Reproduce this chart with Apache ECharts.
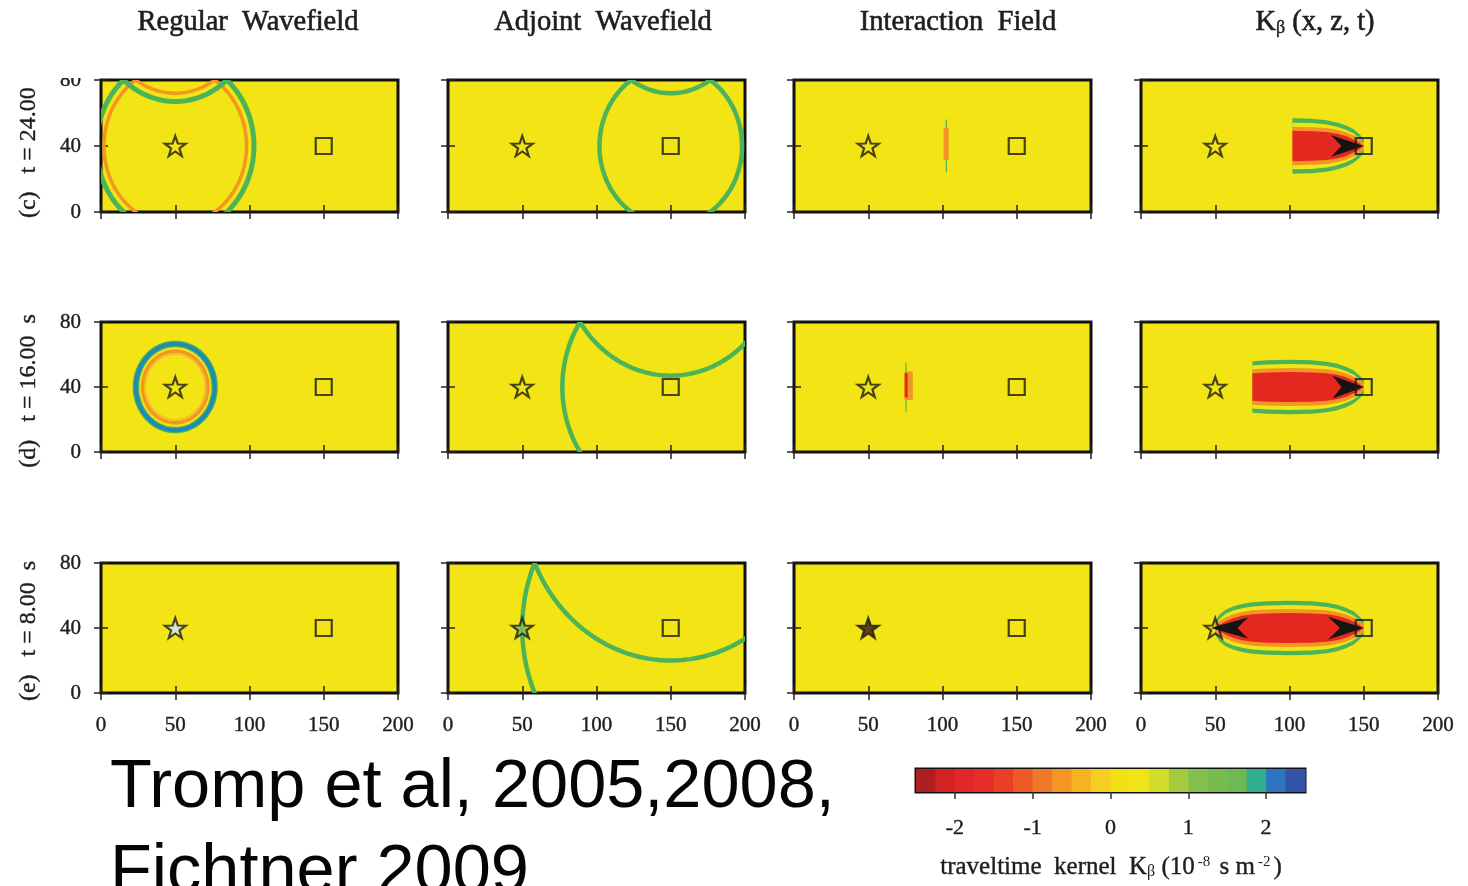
<!DOCTYPE html>
<html>
<head>
<meta charset="utf-8">
<script src="https://cdn.jsdelivr.net/npm/echarts@6/dist/echarts.min.js"></script>
<style>
  html, body { margin: 0; padding: 0; background: #ffffff; }
  #chart { width: 1468px; height: 886px; }
</style>
</head>
<body>
<div id="chart"></div>
<script>
// ---- axes and labels ----
const xTicks = [0, 50, 100, 150, 200];
const zTicks = [0, 40, 80];
const columnTitles = ['Regular  Wavefield', 'Adjoint  Wavefield', 'Interaction  Field', '{t|K}{s|β}{t| (x, z, t)}'];
const rowLabels = ['(c)   t = 24.00  s', '(d)   t = 16.00  s', '(e)   t = 8.00  s'];
const sourcePos = [50, 40];
const receiverPos = [150, 40];

// ---- regular wavefield fronts: [row, centreX, centreZ, radius, colour, line width px] ----
// centreZ = 120 is the image source mirrored at the free surface (z = 80)
const regularFronts = [
  [0, 50, 40, 53, 'green', 5],
  [0, 50, 40, 48, 'orange', 3.5],
  [0, 50, 120, 53, 'green', 5],
  [0, 50, 120, 48, 'orange', 3.5],
  [1, 50, 40, 26.5, 'green', 6.5],
  [1, 50, 40, 26.5, 'blue', 4],
  [1, 50, 40, 22, 'orange', 3.5],
  [1, 50, 40, 20.3, 'paleOrange', 2]
];

// ---- adjoint wavefield fronts (centred on the receiver) ----
const adjointFronts = [
  [0, 150, 40, 48, 'green', 4.5],
  [0, 150, 120, 48, 'green', 4.5],
  [1, 150, 40, 73, 'green', 4.5],
  [1, 150, 120, 73, 'green', 4.5],
  [2, 150, 40, 100, 'green', 4.5],
  [2, 150, 120, 100, 'green', 4.5]
];

// ---- interaction field strips: [row, x0, x1, z0, z1, colour] ----
const interactionStrips = [
  [0, 102.2, 103, 24, 56, 'green'],
  [0, 100.8, 104.2, 31.5, 51, 'orange'],
  [1, 75, 75.8, 25, 55, 'green'],
  [1, 74.5, 80, 32, 49.5, 'orange'],
  [1, 74.5, 76.5, 33.5, 48.5, 'red']
];

// ---- sensitivity kernel lens: half widths (about z = 40) along x ----
const lensX     = [50, 53, 57, 62, 68, 75, 85, 100, 115, 125, 132, 138, 143, 147, 150];
const lensGreen = [3, 7, 10, 12, 13.5, 14.5, 15.2, 15.5, 15.2, 14.3, 13, 11.2, 9, 6, 3];
const lensRed   = [0, 2, 4, 6, 7.5, 8.5, 9, 9.3, 9, 8.5, 7.5, 6, 4, 2, 0];
const kernelStartX = [102, 75, 47];
// black arrowheads: [row, tipX, backX, notchX, half width]
const kernelArrows = [
  [0, 150, 128, 135, 6.5],
  [1, 150, 129, 135, 7],
  [2, 150, 126, 134, 7],
  [2, 47, 72, 65, 6.5]
];

// star fill per [row][column]
const starFill = [
  ['yellow', 'yellow', 'yellow', 'yellow'],
  ['yellow', 'yellow', 'yellow', 'yellow'],
  ['#d2e6ee', '#8cc04c', '#3a1c10', 'none']
];

// ---- colour bar ----
const cbarTicks = [-2, -1, 0, 1, 2];
const cbarEdges = [-2.5, -2.25, -2, -1.75, -1.5, -1.25, -1, -0.75, -0.5, -0.25, 0,
                   0.25, 0.5, 0.75, 1, 1.25, 1.5, 1.75, 2, 2.25, 2.5];
const cbarColors = ['#b01e22', '#d42224', '#e32627', '#e72d28', '#ea3f27', '#ee5a26', '#f17826', '#f49524',
                    '#f6b423', '#f4cf1f', '#f2e215', '#efe418', '#d2dc2a', '#a4cb3e', '#84c04b', '#78bc50',
                    '#6cb955', '#2fae8e', '#2e74c0', '#3453a6'];

// ---- styling ----
const PAL = {
  yellow: '#f2e415', green: '#4bb458', blue: '#1e8bb6', orange: '#f39524',
  paleOrange: '#f6bd2a', red: '#e4271f', black: '#141414'
};
const SERIF = '"Liberation Serif", "Times New Roman", serif';
const SANS = '"Liberation Sans", Arial, sans-serif';
const TEXT = '#1e1e1e';
const STAR = 'path://M0,-10L2.35,-3.24L9.51,-3.09L3.8,1.24L5.88,8.09L0,4L-5.88,8.09L-3.8,1.24L-9.51,-3.09L-2.35,-3.24Z';

const GRID_LEFT = [101, 448, 794, 1141];
const GRID_TOP = [80, 322, 563];
const GRID_H = [132, 130, 130];
const GRID_W = 297;

const chart = echarts.init(document.getElementById('chart'), null, { renderer: 'canvas' });

const grids = [], xAxes = [], yAxes = [], series = [];

function clipOf(params) {
  const c = params.coordSys;
  return { type: 'rect', shape: { x: c.x, y: c.y, width: c.width, height: c.height } };
}

function tickStyle() {
  return { show: true, length: 7, inside: false, lineStyle: { color: '#222', width: 1.5 } };
}

function ringSeries(g, fronts) {
  return {
    type: 'custom', xAxisIndex: 2 * g, yAxisIndex: 2 * g, silent: true, z: 2,
    data: fronts.map(f => [f[1], f[2]]),
    renderItem: function (params, api) {
      const f = fronts[params.dataIndex];
      const pts = [];
      for (let k = 0; k <= 240; k++) {
        const a = k / 240 * Math.PI * 2;
        pts.push(api.coord([f[1] + f[3] * Math.cos(a), f[2] + f[3] * Math.sin(a)]));
      }
      return {
        type: 'polyline', shape: { points: pts },
        style: { stroke: PAL[f[4]], lineWidth: f[5], fill: null },
        clipPath: clipOf(params)
      };
    }
  };
}

function stripSeries(g, strips) {
  return {
    type: 'custom', xAxisIndex: 2 * g, yAxisIndex: 2 * g, silent: true, z: 2,
    data: strips.map(s => [s[1], s[3]]),
    renderItem: function (params, api) {
      const s = strips[params.dataIndex];
      const p0 = api.coord([s[1], s[4]]);
      const p1 = api.coord([s[2], s[3]]);
      return {
        type: 'rect', shape: { x: p0[0], y: p0[1], width: p1[0] - p0[0], height: p1[1] - p0[1] },
        style: { fill: PAL[s[5]] }
      };
    }
  };
}

function kernelSeries(g, row) {
  const arrows = kernelArrows.filter(a => a[0] === row);
  return {
    type: 'custom', xAxisIndex: 2 * g, yAxisIndex: 2 * g, silent: true, z: 2,
    data: [[kernelStartX[row], 40]],
    renderItem: function (params, api) {
      const c = params.coordSys;
      const xs = api.coord([kernelStartX[row], 0])[0];
      const lens = (h, d) => {
        const top = [], bot = [];
        for (let i = 0; i < lensX.length; i++) {
          const w = Math.max(h[i] + d, 0);
          top.push(api.coord([lensX[i], 40 + w]));
          bot.push(api.coord([lensX[i], 40 - w]));
        }
        return top.concat(bot.reverse());
      };
      const children = [
        { type: 'polygon', shape: { points: lens(lensGreen, 1.3) }, style: { fill: PAL.green } },
        { type: 'polygon', shape: { points: lens(lensGreen, -1.3) }, style: { fill: PAL.yellow } },
        { type: 'polygon', shape: { points: lens(lensRed, 2.4) }, style: { fill: PAL.orange } },
        { type: 'polygon', shape: { points: lens(lensRed, 0) }, style: { fill: PAL.red } }
      ];
      arrows.forEach(a => {
        children.push({
          type: 'polygon',
          shape: { points: [api.coord([a[1], 40]), api.coord([a[2], 40 + a[4]]), api.coord([a[3], 40]), api.coord([a[2], 40 - a[4]])] },
          style: { fill: PAL.black }
        });
      });
      return {
        type: 'group',
        clipPath: { type: 'rect', shape: { x: xs, y: c.y, width: c.x + c.width - xs, height: c.height } },
        children: children
      };
    }
  };
}

const labelStyle = { fontFamily: SERIF, fontSize: 21, color: TEXT, textBorderColor: TEXT, textBorderWidth: 0.4 };

for (let r = 0; r < 3; r++) {
  for (let c = 0; c < 4; c++) {
    const g = r * 4 + c;
    grids.push({
      left: GRID_LEFT[c], top: GRID_TOP[r], width: GRID_W, height: GRID_H[r],
      show: true, backgroundColor: PAL.yellow, borderColor: '#111', borderWidth: 3, containLabel: false
    });
    xAxes.push({
      gridIndex: g, type: 'value', min: xTicks[0], max: xTicks[xTicks.length - 1], interval: 50, position: 'bottom',
      axisLine: { show: false }, axisTick: tickStyle(), splitLine: { show: false },
      axisLabel: Object.assign({ show: r === 2, margin: 22 }, labelStyle)
    });
    xAxes.push({
      gridIndex: g, type: 'value', min: xTicks[0], max: xTicks[xTicks.length - 1], interval: 50, position: 'top',
      axisLine: { show: false }, axisTick: tickStyle(), splitLine: { show: false }, axisLabel: { show: false }
    });
    yAxes.push({
      gridIndex: g, type: 'value', min: zTicks[0], max: zTicks[zTicks.length - 1], interval: 40, position: 'left',
      axisLine: { show: false }, axisTick: tickStyle(), splitLine: { show: false },
      axisLabel: Object.assign({ show: c === 0, margin: 20 }, labelStyle)
    });
    yAxes.push({
      gridIndex: g, type: 'value', min: zTicks[0], max: zTicks[zTicks.length - 1], interval: 40, position: 'right',
      axisLine: { show: false }, axisTick: tickStyle(), splitLine: { show: false }, axisLabel: { show: false }
    });

    if (c === 0) series.push(ringSeries(g, regularFronts.filter(f => f[0] === r)));
    if (c === 1) series.push(ringSeries(g, adjointFronts.filter(f => f[0] === r)));
    if (c === 2) series.push(stripSeries(g, interactionStrips.filter(s => s[0] === r)));
    if (c === 3) series.push(kernelSeries(g, r));

    const fill = starFill[r][c];
    series.push({
      type: 'scatter', xAxisIndex: 2 * g, yAxisIndex: 2 * g, silent: true, z: 5,
      itemStyle: { borderColor: '#1a1a1a', borderWidth: 2.2 },
      data: [
        { value: sourcePos, symbol: STAR, symbolSize: [21, 20],
          itemStyle: { color: fill === 'none' ? 'rgba(0,0,0,0)' : (PAL[fill] || fill) } },
        { value: receiverPos, symbol: 'rect', symbolSize: 16, itemStyle: { color: 'rgba(0,0,0,0)' } }
      ]
    });
  }
}

// colour bar
const cg = grids.length;
grids.push({
  left: 916, top: 769, width: 389, height: 23,
  show: true, backgroundColor: '#fff', borderColor: '#111', borderWidth: 3
});
xAxes.push({
  gridIndex: cg, type: 'value', min: cbarEdges[0], max: cbarEdges[cbarEdges.length - 1], position: 'bottom', offset: 5,
  axisLine: { show: false }, splitLine: { show: false },
  axisTick: { show: true, length: 7, lineStyle: { color: '#333', width: 1.5 }, customValues: cbarTicks },
  axisLabel: Object.assign({ show: true, margin: 20, customValues: cbarTicks }, labelStyle, { fontSize: 22 })
});
yAxes.push({ gridIndex: cg, type: 'value', min: 0, max: 1, show: false });
series.push({
  type: 'custom', xAxisIndex: xAxes.length - 1, yAxisIndex: yAxes.length - 1, silent: true,
  data: cbarColors.map((col, i) => [cbarEdges[i], 0]),
  renderItem: function (params, api) {
    const i = params.dataIndex;
    const p0 = api.coord([cbarEdges[i], 1]);
    const p1 = api.coord([cbarEdges[i + 1], 0]);
    return {
      type: 'rect', shape: { x: p0[0], y: p0[1], width: p1[0] - p0[0] + 0.6, height: p1[1] - p0[1] },
      style: { fill: cbarColors[i] }
    };
  }
});

const titleX = [248, 603, 958, 1315];
const rowLabelY = [142, 391, 631];
const richTitle = {
  t: { fontFamily: SERIF, fontSize: 28.5, fill: TEXT, stroke: TEXT, lineWidth: 0.6 },
  s: { fontFamily: SERIF, fontSize: 18, fill: TEXT, stroke: TEXT, lineWidth: 0.4, lineHeight: 17, verticalAlign: 'bottom', padding: [13, 0, 0, 0] }
};

const graphics = [];
rowLabels.forEach((txt, r) => {
  graphics.push({
    type: 'text', x: 29, y: rowLabelY[r], rotation: Math.PI / 2, z: 10,
    style: { text: txt, fontFamily: SERIF, fontSize: 24, fill: TEXT, stroke: TEXT, lineWidth: 0.4,
             align: 'center', verticalAlign: 'middle' }
  });
});
// white band across the top of the page
graphics.push({ type: 'rect', z: 50, shape: { x: 0, y: 0, width: 1468, height: 78 }, style: { fill: '#ffffff' } });
columnTitles.forEach((txt, c) => {
  graphics.push({
    type: 'text', x: titleX[c], y: 23, z: 60,
    style: { text: c === 3 ? txt : '{t|' + txt + '}', rich: richTitle, align: 'center', verticalAlign: 'middle',
             fontFamily: SERIF, fontSize: 28.5, fill: TEXT }
  });
});
graphics.push({
  type: 'text', x: 1111, y: 867, z: 60,
  style: {
    text: '{t|traveltime  kernel  K}{s|β}{t| (10}{p|-8}{t| s m}{p|-2}{t|)}',
    align: 'center', verticalAlign: 'middle',
    rich: {
      t: { fontFamily: SERIF, fontSize: 25, fill: TEXT, stroke: TEXT, lineWidth: 0.4 },
      s: { fontFamily: SERIF, fontSize: 16, fill: TEXT, lineHeight: 16, verticalAlign: 'bottom', padding: [10, 0, 0, 0] },
      p: { fontFamily: SERIF, fontSize: 15, fill: TEXT, lineHeight: 15, verticalAlign: 'top', padding: [0, 3, 10, 3] }
    }
  }
});
graphics.push({
  type: 'text', x: 110, y: 788, z: 60,
  style: { text: 'Tromp et al, 2005,2008,', fontFamily: SANS, fontSize: 68.5, fill: '#050505', align: 'left', verticalAlign: 'middle' }
});
graphics.push({
  type: 'text', x: 110, y: 873, z: 60,
  style: { text: 'Fichtner 2009', fontFamily: SANS, fontSize: 68.5, fill: '#050505', align: 'left', verticalAlign: 'middle' }
});

chart.setOption({
  animation: false,
  backgroundColor: '#ffffff',
  grid: grids,
  xAxis: xAxes,
  yAxis: yAxes,
  series: series,
  graphic: { elements: graphics }
});
</script>
</body>
</html>
